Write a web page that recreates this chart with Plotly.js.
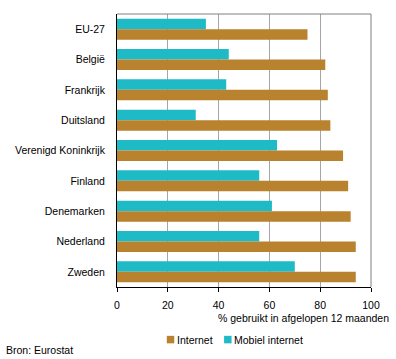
<!DOCTYPE html>
<html>
<head>
<meta charset="utf-8">
<script src="https://cdn.plot.ly/plotly-3.0.1.min.js"></script>
<style>html,body{margin:0;padding:0;background:#fff;}#chart{width:396px;height:359px;}</style>
</head>
<body>
<div id="chart"></div>
<script>
var categories = ["EU-27", "België", "Frankrijk", "Duitsland", "Verenigd Koninkrijk", "Finland", "Denemarken", "Nederland", "Zweden"];
var internet = [75, 82, 83, 84, 89, 91, 92, 94, 94];
var mobielInternet = [35, 44, 43, 31, 63, 56, 61, 56, 70];
var xTicks = [0, 20, 40, 60, 80, 100];
var seriesNames = ["Internet", "Mobiel internet"];
var seriesColors = ["#B9822F", "#1EBAC6"];

var font = {family: "Liberation Sans, Arial, sans-serif", size: 10.5, color: "#000"};

var traces = [
  {type: "bar", orientation: "h", name: seriesNames[1], y: categories, x: mobielInternet,
   marker: {color: seriesColors[1]}, hoverinfo: "x"},
  {type: "bar", orientation: "h", name: seriesNames[0], y: categories, x: internet,
   marker: {color: seriesColors[0]}, hoverinfo: "x"}
];

// custom legend (compact, like the reference)
var legendItems = [
  {name: seriesNames[0], color: seriesColors[0], x0: 0.196},
  {name: seriesNames[1], color: seriesColors[1], x0: 0.4216}
];
var sq = 0.0294; // square width in paper units (~7.5px)
var shapes = [
  {type: "line", xref: "paper", yref: "paper", x0: 0, x1: 1, y0: 1, y1: 1, line: {color: "#808080", width: 1}},
  {type: "line", xref: "paper", yref: "paper", x0: 1, x1: 1, y0: 0, y1: 1, line: {color: "#808080", width: 1}}
];
var annotations = [
  {text: "% gebruikt in afgelopen 12 maanden", xref: "paper", yref: "paper",
   x: 1.077, xanchor: "right", y: -0.1135, yanchor: "middle", showarrow: false, font: font},
  {text: "Bron: Eurostat", xref: "paper", yref: "paper",
   x: -0.446, xanchor: "left", y: -0.231, yanchor: "middle", showarrow: false, font: font}
];
legendItems.forEach(function (it) {
  shapes.push({type: "rect", xref: "paper", yref: "paper", x0: it.x0, x1: it.x0 + sq,
               y0: -0.2064, y1: -0.1789, fillcolor: it.color, line: {width: 0}});
  annotations.push({text: it.name, xref: "paper", yref: "paper", x: it.x0 + sq + 0.001,
                    xanchor: "left", y: -0.1926, yanchor: "middle", showarrow: false, font: font});
});

var layout = {
  width: 396, height: 359,
  margin: {l: 116.5, r: 24.5, t: 14, b: 72.3, pad: 0, autoexpand: false},
  paper_bgcolor: "#fff", plot_bgcolor: "#fff",
  font: font,
  barmode: "group", bargap: 0.31, bargroupgap: 0,
  showlegend: false,
  xaxis: {range: [0, 100], tickvals: xTicks, ticktext: xTicks.map(String),
          showgrid: true, gridcolor: "#A6A6A6", gridwidth: 1, zeroline: false,
          showline: true, linecolor: "#000", linewidth: 1, ticklabelstandoff: 4,
          ticks: "outside", ticklen: 4, tickcolor: "#000", tickfont: font, fixedrange: true},
  yaxis: {type: "category", autorange: "reversed", showgrid: false, zeroline: false,
          showline: true, linecolor: "#000", linewidth: 1, ticks: "", ticklabelstandoff: 9,
          tickfont: font, fixedrange: true},
  shapes: shapes,
  annotations: annotations
};

Plotly.newPlot("chart", traces, layout, {displayModeBar: false, staticPlot: true});
</script>
</body>
</html>
